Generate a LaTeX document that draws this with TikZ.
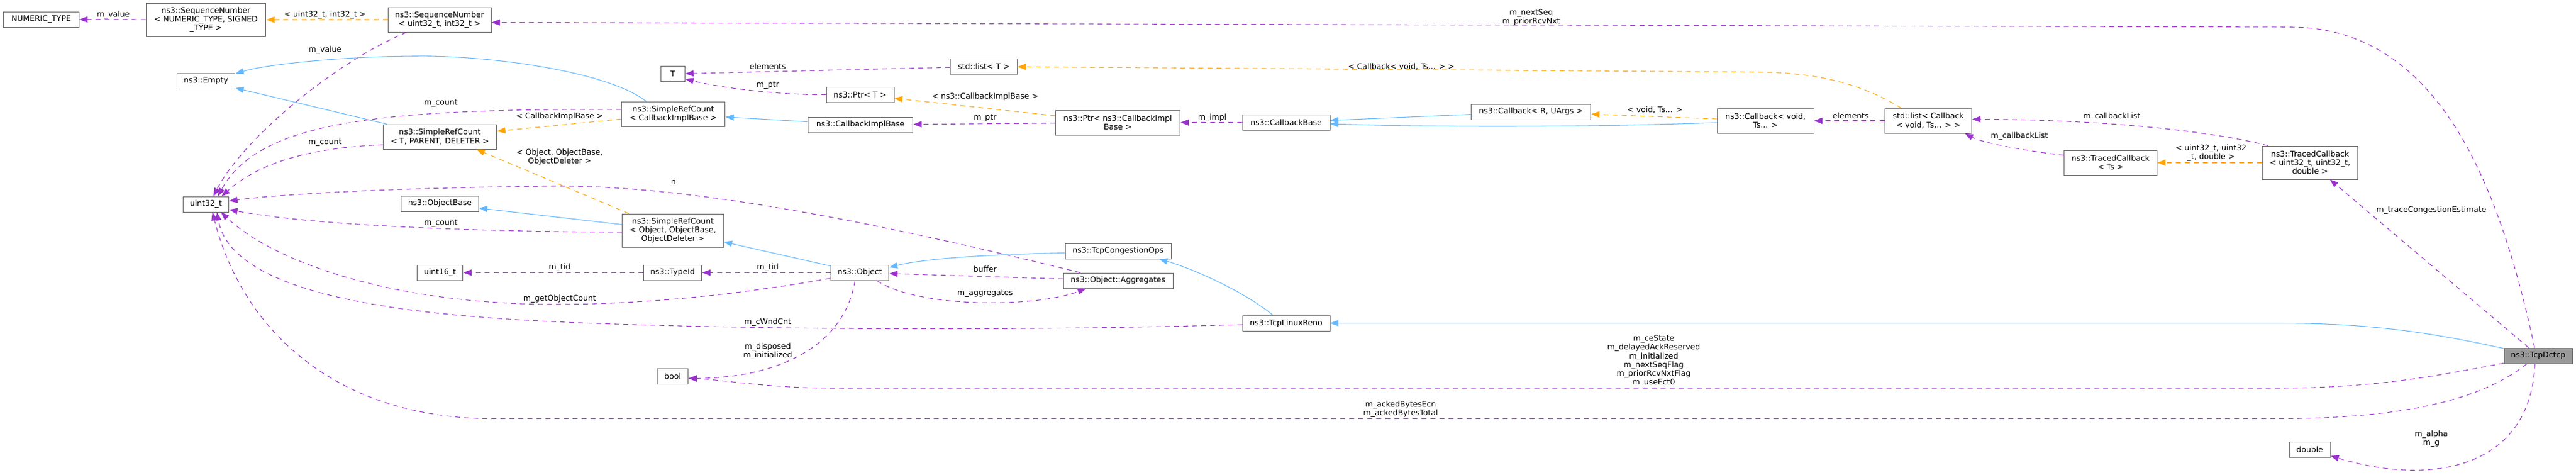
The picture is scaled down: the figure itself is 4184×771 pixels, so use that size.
\documentclass[tikz,border=0pt]{standalone}
\usepackage{fontspec}
\setmainfont{DejaVu Sans}
\usepackage{tikz}
\usetikzlibrary{arrows.meta}
\definecolor{usecol}{HTML}{9A32CD}
\definecolor{inhcol}{HTML}{63B8FF}
\definecolor{tplcol}{HTML}{FFA500}
\definecolor{boxcol}{HTML}{666666}
\definecolor{maincol}{HTML}{999999}

\begin{document}
\begin{tikzpicture}[x=0.75pt, y=-0.75pt,
		every node/.style={font=\fontsize{9.5}{10.7}\selectfont},
		cls/.style={draw=boxcol, fill=white, line width=0.75pt, inner sep=2pt, align=center, minimum height=18.75pt, minimum width=#1},
		lbl/.style={inner sep=0pt, align=center},
		useedge/.style={draw=usecol, line width=0.8pt, dash pattern=on 6pt off 5pt, -{Triangle[length=10pt, width=7.5pt]}},
		inhedge/.style={draw=inhcol, line width=0.8pt, -{Triangle[length=10pt, width=7.5pt]}},
		tpledge/.style={draw=tplcol, line width=0.8pt, dash pattern=on 6pt off 5pt, -{Triangle[length=10pt, width=7.5pt]}}]
				\useasboundingbox (0,0) rectangle (4184,771);

				\node[cls=92.2pt] (numtype) at (67,31.5) {NUMERIC\_TYPE};
				\node[cls=146.2pt, minimum height=40.5pt] (seqgen) at (334.5,32) {ns3::SequenceNumber\\< NUMERIC\_TYPE, SIGNED\\\_TYPE >};
				\node[cls=126pt, minimum height=30pt] (seq32) at (714,32) {ns3::SequenceNumber\\< uint32\_t, int32\_t >};
				\node[cls=71.2pt] (empty) at (334.5,131.5) {ns3::Empty};
				\node[cls=138.7pt, minimum height=30pt] (srctpd) at (714.5,222) {ns3::SimpleRefCount\\< T, PARENT, DELETER >};
				\node[cls=56.2pt] (uint) at (334.5,331.5) {uint32\_t};
				\node[cls=94.5pt] (objbase) at (714.5,330.5) {ns3::ObjectBase};
				\node[cls=56.2pt] (uint16) at (714.5,442.5) {uint16\_t};
				\node[cls=38.2pt] (bool) at (1092.5,610.5) {bool};
				\node[cls=29.6pt] (T) at (1093,120) {T};
				\node[cls=126.7pt, minimum height=30pt] (srccib) at (1093.5,185) {ns3::SimpleRefCount\\< CallbackImplBase >};
				\node[cls=123.4pt, minimum height=40.5pt] (srcobj) at (1093,374) {ns3::SimpleRefCount\\< Object, ObjectBase,\\ObjectDeleter >};
				\node[cls=71.2pt] (typeid) at (1092.5,442.5) {ns3::TypeId};
				\node[cls=82.5pt] (ptrT) at (1397,153.5) {ns3::Ptr< T >};
				\node[cls=128.2pt] (cib) at (1397.5,202.5) {ns3::CallbackImplBase};
				\node[cls=71.2pt] (object) at (1396.5,442.5) {ns3::Object};
				\node[cls=81.4pt] (listT) at (1598,108) {std::list< T >};
				\node[cls=152.2pt, minimum height=30pt] (ptrcib) at (1815.5,199) {ns3::Ptr< ns3::CallbackImpl\\Base >};
				\node[cls=106.5pt] (cbbase) at (2089,198.5) {ns3::CallbackBase};
				\node[cls=129pt] (tco) at (1816,407.5) {ns3::TcpCongestionOps};
				\node[cls=133.5pt] (agg) at (1816,455.5) {ns3::Object::Aggregates};
				\node[cls=106.5pt] (tlr) at (2089,524.5) {ns3::TcpLinuxReno};
				\node[cls=146.2pt] (cbru) at (2486.5,181.5) {ns3::Callback< R, UArgs >};
				\node[cls=117.7pt, minimum height=30pt] (cbvoid) at (2867.5,196) {ns3::Callback< void,\\Ts... >};
				\node[cls=106.1pt, minimum height=30pt] (cblist) at (3132,196) {std::list< Callback\\< void, Ts... > >};
				\node[cls=113.2pt, minimum height=30pt] (tcts) at (3428,264) {ns3::TracedCallback\\< Ts >};
				\node[cls=116.2pt, minimum height=40.5pt] (tcu32) at (3752,264) {ns3::TracedCallback\\< uint32\_t, uint32\_t,\\double >};
				\node[cls=83.2pt, fill=maincol] (dctcp) at (4122.5,577.5) {ns3::TcpDctcp};
				\node[cls=50.2pt] (dbl) at (3751.5,729.5) {double};

				\draw[useedge] (seqgen) -- (numtype);
				\draw[tpledge] (seq32) -- (seqgen);
				\draw[useedge] (seq32.201) .. controls (545,100) and (395,225) .. (uint.47);
				\draw[useedge] (dctcp.114) .. controls (4060,300) and (3960,44) .. (3720,44) -- (seq32.-3);
				\draw[inhedge] (srccib.155) .. controls (1000,125) and (850,95) .. (700,91) .. controls (560,90) and (430,105) .. (empty.14);
				\draw[inhedge] (srctpd) -- (empty);
				\draw[useedge] (srccib.175) .. controls (600,176) and (420,200) .. (uint.34);
				\draw[tpledge] (srccib) -- (srctpd);
				\draw[useedge] (srctpd.188) .. controls (500,240) and (420,265) .. (uint.27);
				\draw[tpledge] (srcobj.159) -- (srctpd.-19);
				\draw[useedge] (agg.168) .. controls (1500,380) and (1150,300) .. (900,302) .. controls (700,304) and (480,312) .. (uint.8);
				\draw[useedge] (srcobj.182) .. controls (800,376) and (520,368) .. (uint.-13);
				\draw[inhedge] (srcobj) -- (objbase);
				\draw[inhedge] (object) -- (srcobj);
				\draw[useedge] (object) -- (typeid);
				\draw[useedge] (typeid) -- (uint16);
				\draw[useedge] (object.191) .. controls (1200,478) and (1050,494) .. (900,494) .. controls (650,494) and (450,430) .. (uint.-28);
				\draw[useedge] (tlr.182) .. controls (1700,536) and (1300,536) .. (1000,526) .. controls (760,518) and (380,500) .. (uint.-36);
				\draw[useedge] (dctcp.215) .. controls (4030,650) and (3900,679.5) .. (3700,679.5) -- (800,679.5) .. controls (550,679.5) and (395,540) .. (uint.-51);
				\draw[useedge] (object.239) .. controls (1370,570) and (1250,614) .. (bool.-8);
				\draw[useedge] (dctcp.192) .. controls (3950,612) and (3850,630) .. (3700,630) -- (1350,630) .. controls (1250,630) and (1170,616) .. (bool.-8);
				\draw[inhedge] (tco.182) .. controls (1600,413) and (1500,420) .. (object.10);
				\draw[useedge] (agg) -- (object);
				\draw[useedge] (object.-25) .. controls (1490,500) and (1680,500) .. (agg.194);
				\draw[inhedge] (tlr.149) .. controls (2030,480) and (1950,440) .. (tco.-11);
				\draw[inhedge] (dctcp.168) .. controls (3950,540) and (3850,524.5) .. (3700,524.5) -- (tlr);
				\draw[useedge] (listT) -- (T);
				\draw[useedge] (ptrT) .. controls (1250,154) and (1160,140) .. (T.-22);
				\draw[inhedge] (cib) -- (srccib);
				\draw[useedge] (ptrcib) -- (cib);
				\draw[tpledge] (ptrcib) -- (ptrT);
				\draw[useedge] (cbbase) -- (ptrcib);
				\draw[inhedge] (cbru) -- (cbbase);
				\draw[inhedge] (cbvoid) .. controls (2600,206) and (2350,207) .. (cbbase.-2);
				\draw[tpledge] (cbvoid) -- (cbru);
				\draw[useedge] (cblist) -- (cbvoid);
				\draw[tpledge] (cblist.155) .. controls (3030,140) and (2960,117) .. (2850,117) -- (listT);
				\draw[useedge] (tcts.171) .. controls (3290,245) and (3220,232) .. (cblist.-19);
				\draw[useedge] (tcu32.158) .. controls (3580,210) and (3400,194) .. (cblist.2);
				\draw[tpledge] (tcu32) -- (tcts);
				\draw[useedge] (dctcp) -- (tcu32);
				\draw[useedge] (dctcp.248) .. controls (4110,760) and (3950,790) .. (dbl.-17);

				\node[lbl] (lvalue) at (184,24) {m\_value};
				\node[lbl] (lseq) at (528,24) {< uint32\_t, int32\_t >};
				\node[lbl] (lvalue2) at (528,81) {m\_value};
				\node[lbl] (lnext) at (2487,28) {m\_nextSeq\\m\_priorRcvNxt};
				\node[lbl] (lcount1) at (716,168) {m\_count};
				\node[lbl] (lcib) at (909,189) {< CallbackImplBase >};
				\node[lbl] (lcount2) at (528,232) {m\_count};
				\node[lbl] (lobj) at (909,255) {< Object, ObjectBase,\\ObjectDeleter >};
				\node[lbl] (ln) at (1094,296) {n};
				\node[lbl] (lcount3) at (716,363) {m\_count};
				\node[lbl] (ltid1) at (1247,434) {m\_tid};
				\node[lbl] (ltid2) at (909,434) {m\_tid};
				\node[lbl] (lgoc) at (909,485) {m\_getObjectCount};
				\node[lbl] (lcwnd) at (1247,523) {m\_cWndCnt};
				\node[lbl] (lacked) at (2275,664.5) {m\_ackedBytesEcn\\m\_ackedBytesTotal};
				\node[lbl] (ldisp) at (1247,570.5) {m\_disposed\\m\_initialized};
				\node[lbl] (lflags) at (2686,586) {m\_ceState\\m\_delayedAckReserved\\m\_initialized\\m\_nextSeqFlag\\m\_priorRcvNxtFlag\\m\_useEct0};
				\node[lbl] (lbuf) at (1600,437) {buffer};
				\node[lbl] (laggr) at (1600,477) {m\_aggregates};
				\node[lbl] (lelem1) at (1247,108) {elements};
				\node[lbl] (lptr1) at (1247,139) {m\_ptr};
				\node[lbl] (lptr2) at (1600,192) {m\_ptr};
				\node[lbl] (lptrcib) at (1600,157) {< ns3::CallbackImplBase >};
				\node[lbl] (limpl) at (1969,191) {m\_impl};
				\node[lbl] (lvoid) at (2688,178) {< void, Ts... >};
				\node[lbl] (lelem2) at (3006,188) {elements};
				\node[lbl] (lcblist) at (2276,108) {< Callback< void, Ts... > >};
				\node[lbl] (lcbl1) at (3280,221) {m\_callbackList};
				\node[lbl] (lcbl2) at (3430,189) {m\_callbackList};
				\node[lbl] (ltraced) at (3591,248) {< uint32\_t, uint32\\\_t, double >};
				\node[lbl] (ltrace) at (3949,341) {m\_traceCongestionEstimate};
				\node[lbl] (lalpha) at (3949,712) {m\_alpha\\m\_g};
			\end{tikzpicture}
\end{document}
